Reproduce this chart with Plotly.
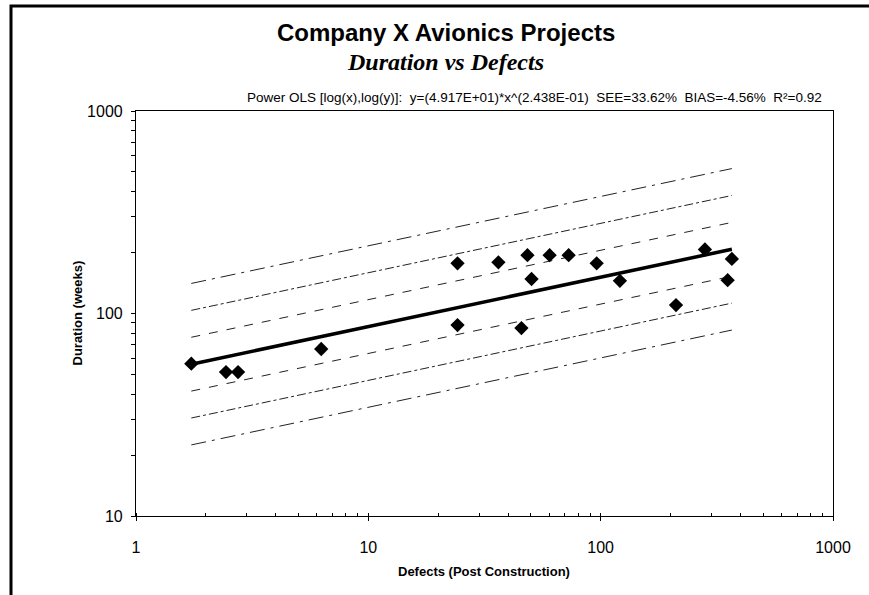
import plotly.graph_objects as go

# ---- data ----
defects = [1.73, 2.44, 2.75, 6.27, 24.2, 24.2, 36.3, 48.4, 50.4, 45.6,
           60.3, 72.8, 96.1, 121, 211, 281, 367, 352]
duration = [56.5, 51.4, 51.4, 66.8, 177, 87.7, 179, 194, 148, 84.7,
            194, 194, 177, 145, 110, 207, 186, 146]

fit_a = 49.17      # y = a * x^b  (from the chart's equation text)
fit_b = 0.2438
band_factor = 1.358  # multiplicative spacing of the error bands
band_levels = [3, 2, 1, -1, -2, -3]
band_dash = {1: "dash", 2: "dashdot", 3: "longdashdot"}

x_ticks = [1, 10, 100, 1000]
y_ticks = [10, 100, 1000]

title_main = "Company X Avionics Projects"
title_sub = "Duration vs Defects"
eq_text = ("Power OLS [log(x),log(y)]:\u00a0\u00a0y=(4.917E+01)*x^(2.438E-01)"
           "\u00a0\u00a0SEE=33.62%\u00a0\u00a0BIAS=-4.56%\u00a0\u00a0R²=0.92")
x_title = "Defects (Post Construction)"
y_title = "Duration (weeks)"

# ---- build ----
x_line = [min(defects), max(defects)]
y_fit = [fit_a * x ** fit_b for x in x_line]

fig = go.Figure()

for k in band_levels:
    fig.add_trace(go.Scatter(
        x=x_line, y=[v * band_factor ** k for v in y_fit], mode="lines",
        line=dict(color="#222222", width=1, dash=band_dash[abs(k)]),
        hoverinfo="skip", showlegend=False))

fig.add_trace(go.Scatter(x=x_line, y=y_fit, mode="lines",
                         line=dict(color="black", width=3.5), showlegend=False))

fig.add_trace(go.Scatter(x=defects, y=duration, mode="markers",
                         marker=dict(symbol="diamond", size=11, color="black"),
                         showlegend=False))

FONT = "Liberation Sans, Arial, sans-serif"
W, H = 869, 595
L, R, T, B = 136, 833, 111, 516
pw, ph = R - L, B - T


def px(x):
    return (x - L) / pw


def py(y):
    return (B - y) / ph


axis_common = dict(type="log", showgrid=False, zeroline=False, showline=True,
                   linecolor="black", linewidth=1.2, mirror=True,
                   ticks="outside", ticklen=4, tickcolor="black",
                   tickfont=dict(family=FONT, size=16, color="black"))

fig.update_layout(
    width=W, height=H,
    margin=dict(l=L, r=W - R, t=T, b=H - B),
    paper_bgcolor="white", plot_bgcolor="white",
    showlegend=False,
    xaxis=dict(range=[0, 3], tickvals=x_ticks, ticktext=[str(v) for v in x_ticks],
               ticklabelstandoff=13,
               minor=dict(ticks="inside", ticklen=3, tickcolor="black", dtick="D1"),
               **axis_common),
    yaxis=dict(range=[1, 3], tickvals=y_ticks, ticktext=[str(v) for v in y_ticks],
               ticklabelstandoff=5,
               minor=dict(ticks="outside", ticklen=4, tickcolor="black", dtick="D1"),
               **axis_common),
    annotations=[
        dict(text="<b>" + title_main + "</b>", xref="paper", yref="paper",
             x=px(446), y=py(33), showarrow=False, xanchor="center", yanchor="middle",
             font=dict(family=FONT, size=24, color="black")),
        dict(text="<b><i>" + title_sub + "</i></b>", xref="paper", yref="paper",
             x=px(445), y=py(62), showarrow=False, xanchor="center", yanchor="middle",
             font=dict(family="Liberation Serif, Times New Roman, serif", size=24,
                       color="black")),
        dict(text=eq_text, xref="paper", yref="paper",
             x=px(824), y=py(97), showarrow=False, xanchor="right", yanchor="middle",
             font=dict(family=FONT, size=13.5, color="black")),
        dict(text="<b>" + x_title + "</b>", xref="paper", yref="paper",
             x=px(484), y=py(571), showarrow=False, xanchor="center", yanchor="middle",
             font=dict(family=FONT, size=13, color="black")),
        dict(text="<b>" + y_title + "</b>", xref="paper", yref="paper",
             x=px(77), y=0.5, showarrow=False, xanchor="center", yanchor="middle",
             textangle=-90, font=dict(family=FONT, size=13, color="black")),
    ],
    shapes=[
        dict(type="rect", xref="paper", yref="paper",
             x0=px(11), x1=px(872), y0=py(640), y1=py(6),
             line=dict(color="black", width=3), fillcolor="rgba(0,0,0,0)",
             layer="above"),
    ],
)

fig.write_html("out.html",
               config={"displayModeBar": False},
               post_script="document.body.style.margin='0';"
                           "document.body.style.overflow='hidden';")
